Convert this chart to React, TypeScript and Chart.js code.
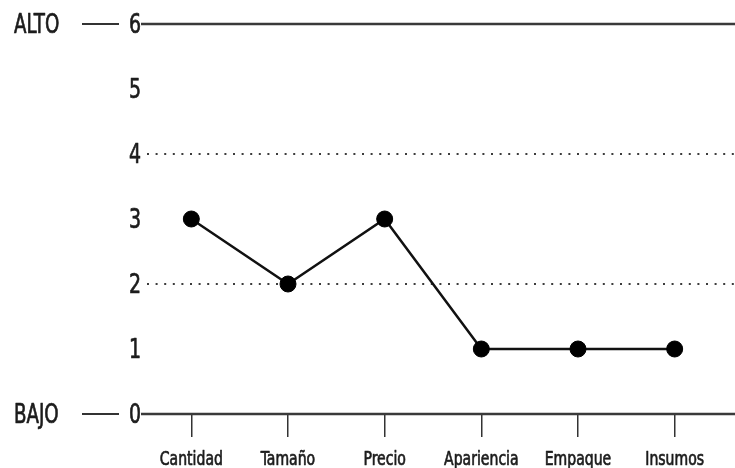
import React, { useEffect, useRef } from "react";
import { Chart, registerables } from "chart.js";

Chart.register(...registerables);

const categories = ["Cantidad", "Tamaño", "Precio", "Apariencia", "Empaque", "Insumos"];
const values = [3, 2, 3, 1, 1, 1];
const yTicks = [0, 1, 2, 3, 4, 5, 6];
const solidLevels = [0, 6];
const dottedLevels = [2, 4];
const levelValues = [6, 0];
const levelTexts = ["ALTO", "BAJO"];

const FONT = "'DejaVu Sans Condensed', 'DejaVu Sans', sans-serif";
const SQUEEZE = 0.78;

function drawText(ctx: CanvasRenderingContext2D, text: string, x: number, y: number, align: CanvasTextAlign, baseline: CanvasTextBaseline, size: number) {
  ctx.save();
  ctx.font = `${size}px ${FONT}`;
  ctx.fillStyle = "#1c1c1c";
  ctx.strokeStyle = "#1c1c1c";
  ctx.lineWidth = 0.7;
  ctx.lineJoin = "round";
  ctx.textAlign = align;
  ctx.textBaseline = baseline;
  ctx.translate(x, y);
  ctx.scale(SQUEEZE, 1);
  ctx.fillText(text, 0, 0);
  ctx.strokeText(text, 0, 0);
  ctx.restore();
}

const linesPlugin = {
  id: "refLines",
  beforeDatasetsDraw(chart: any) {
    const ctx = chart.ctx;
    const ys = chart.scales.y;
    const left = chart.chartArea.left;
    const W = chart.width;
    ctx.save();
    ctx.strokeStyle = "#3c3c3c";
    ctx.lineWidth = 2.2;
    ctx.setLineDash([2, 6.6]);
    dottedLevels.forEach((v) => {
      const py = Math.round(ys.getPixelForValue(v));
      ctx.beginPath();
      ctx.moveTo(left + 4, py);
      ctx.lineTo(W, py);
      ctx.stroke();
    });
    ctx.setLineDash([]);
    ctx.strokeStyle = "#3a3a3a";
    ctx.lineWidth = 2.6;
    solidLevels.forEach((v) => {
      const py = ys.getPixelForValue(v);
      ctx.beginPath();
      ctx.moveTo(left - 2, py);
      ctx.lineTo(W, py);
      ctx.stroke();
    });
    levelValues.forEach((v, i) => {
      const py = ys.getPixelForValue(v);
      ctx.strokeStyle = "#333";
      ctx.lineWidth = 2;
      ctx.beginPath();
      ctx.moveTo(left - 61, py);
      ctx.lineTo(left - 24, py);
      ctx.stroke();
      drawText(ctx, levelTexts[i], left - 129, py + 2, "left", "middle", 26);
    });
    ctx.restore();
  },
  afterDraw(chart: any) {
    const ctx = chart.ctx;
    const ys = chart.scales.y;
    const xs = chart.scales.x;
    const left = chart.chartArea.left;
    const bottom = chart.chartArea.bottom;
    yTicks.forEach((v) => {
      drawText(ctx, String(v), left - 2, ys.getPixelForValue(v) + 2, "right", "middle", 27);
    });
    categories.forEach((c, i) => {
      drawText(ctx, c, xs.getPixelForValue(i), bottom + 51, "center", "alphabetic", 20);
    });
  },
};

export default function App() {
  const ref = useRef<HTMLCanvasElement | null>(null);
  useEffect(() => {
    if (!ref.current) return;
    const chart = new Chart(ref.current, {
      type: "line",
      data: {
        labels: categories,
        datasets: [
          {
            data: values,
            borderColor: "#111",
            borderWidth: 2.5,
            backgroundColor: "#000",
            pointBackgroundColor: "#000",
            pointBorderColor: "#000",
            pointRadius: 8,
            pointBorderWidth: 1,
            tension: 0,
          },
        ],
      },
      options: {
        responsive: false,
        animation: false,
        layout: { padding: { top: 24, right: 12, left: 0, bottom: 0 } },
        plugins: { legend: { display: false }, tooltip: { enabled: false } },
        scales: {
          x: {
            type: "category",
            offset: true,
            grid: {
              drawOnChartArea: false,
              drawTicks: true,
              tickLength: 23,
              color: "#333",
              lineWidth: 1.5,
            },
            border: { display: false },
            ticks: { display: false, autoSkip: false },
            afterFit: (s: any) => {
              s.height = 54;
            },
          },
          y: {
            min: 0,
            max: 6,
            grid: { display: false },
            border: { display: false },
            ticks: { display: false, stepSize: 1 },
            afterFit: (s: any) => {
              s.width = 143;
            },
          },
        },
      },
      plugins: [linesPlugin],
    });
    return () => chart.destroy();
  }, []);
  return (
    <div style={{ position: "absolute", left: 0, top: 0, width: 735, height: 468, background: "#fff" }}>
      <canvas ref={ref} width={735} height={468} />
    </div>
  );
}
